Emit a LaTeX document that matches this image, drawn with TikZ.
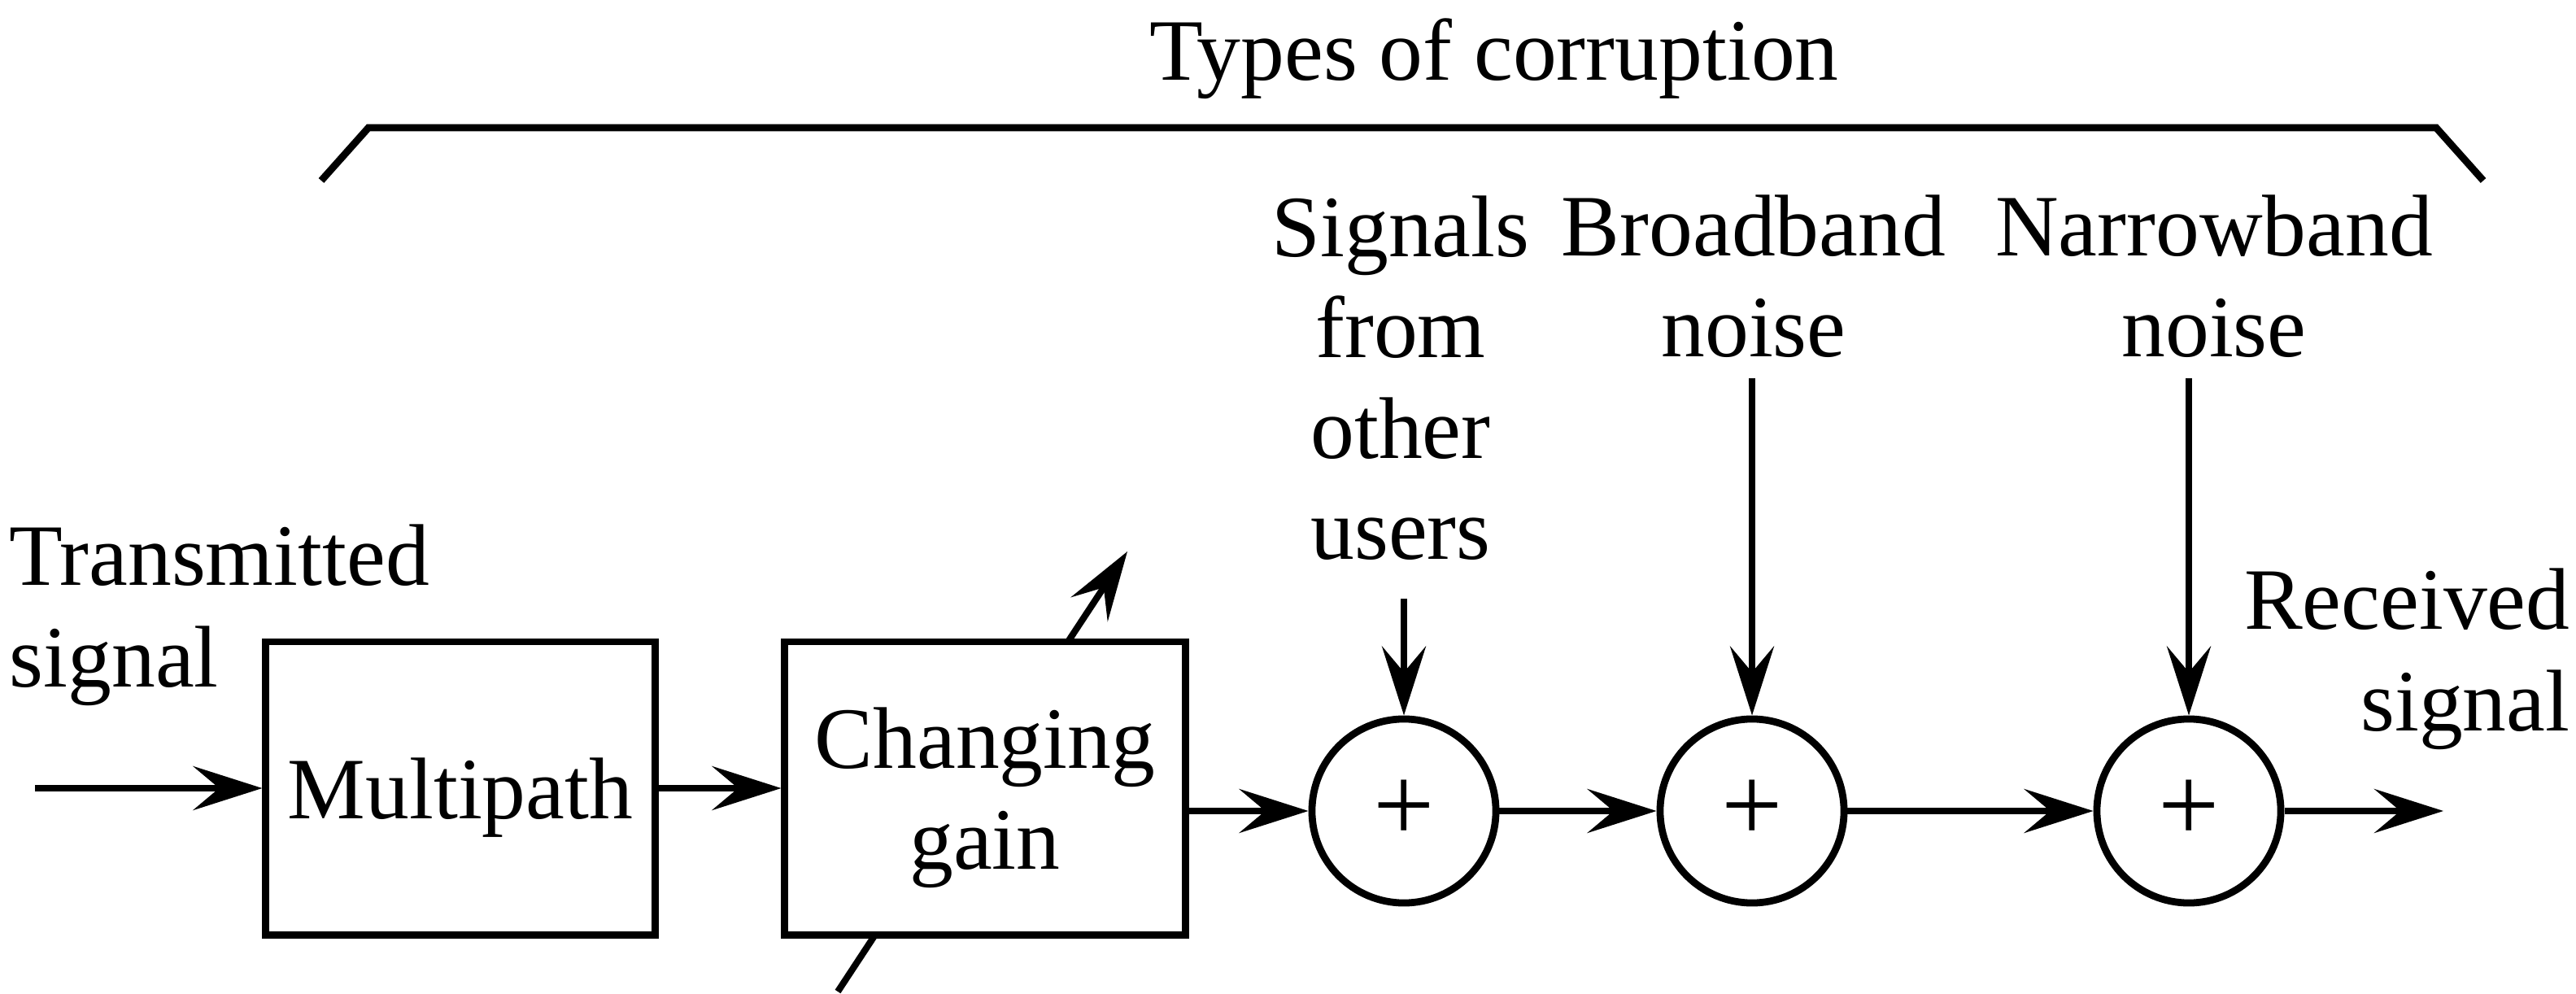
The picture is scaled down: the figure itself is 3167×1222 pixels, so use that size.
\documentclass[tikz,border=0pt]{standalone}
\usepackage{fontspec}
\setmainfont{Liberation Serif}
\usetikzlibrary{arrows.meta,backgrounds}
\begin{document}
\begin{tikzpicture}[x=0.01cm,y=-0.01cm,
  lw/.style={line width=2.5pt},
  txt/.style={font=\fontsize{30.6pt}{35.3pt}\selectfont, inner sep=0pt},
  blk/.style={draw, lw, rectangle, minimum width=4.78cm, minimum height=3.6cm, txt, align=center, text depth=0pt, fill=white},
  sumnode/.style={draw, lw, circle, minimum size=2.26cm, inner sep=0pt, font=\fontsize{38pt}{42pt}\selectfont},
  arr/.style={line width=2.3pt, -{Stealth[length=0.85cm,width=0.54cm,inset=0.32cm]}},
  ]
\useasboundingbox (0,0) rectangle (3167,1222);

\node[blk] (mp) at (566,969) {Multipath};
\node[blk, minimum width=4.92cm] (cg) at (1211,969) {Changing\\gain};
\node[sumnode] (s1) at (1726,997) {+};
\node[sumnode] (s2) at (2154,997) {+};
\node[sumnode] (s3) at (2691,997) {+};

\node[txt, anchor=base] (title) at (1837,99) {Types of corruption};
\node[txt, anchor=base west, align=left] (tx) at (11,844) {Transmitted\\signal};
\node[txt, anchor=base, align=center] (l1) at (1722,688) {Signals\\from\\other\\users};
\node[txt, anchor=base, align=center] (l2) at (2156,439) {Broadband\\noise};
\node[txt, anchor=base, align=center] (l3) at (2722,439) {Narrowband\\noise};
\node[txt, anchor=base east, align=right] (rx) at (3160,898) {Received\\signal};

\coordinate (in) at (43,969);
\coordinate (out) at (3004,997);
\coordinate (u1) at (1726,736);
\coordinate (u2) at (2154,465);
\coordinate (u3) at (2691,465);
\coordinate (g0) at (1030,1219);
\coordinate (g1) at (1386,678);

\draw[arr] (in) -- (mp.west);
\draw[arr] (mp) -- (cg);
\draw[arr] (cg.east |- s1) -- (s1.west);
\draw[arr] (s1) -- (s2);
\draw[arr] (s2) -- (s3);
\draw[arr] (s3) -- (out);
\draw[arr] (u1) -- (s1.north);
\draw[arr] (u2) -- (s2.north);
\draw[arr] (u3) -- (s3.north);
\begin{scope}[on background layer]
\draw[arr] (g0) -- (g1);
\end{scope}

\draw[lw, line join=miter] (395,222) -- (453,157) -- (2995,157) -- (3053,222);
\end{tikzpicture}
\end{document}
